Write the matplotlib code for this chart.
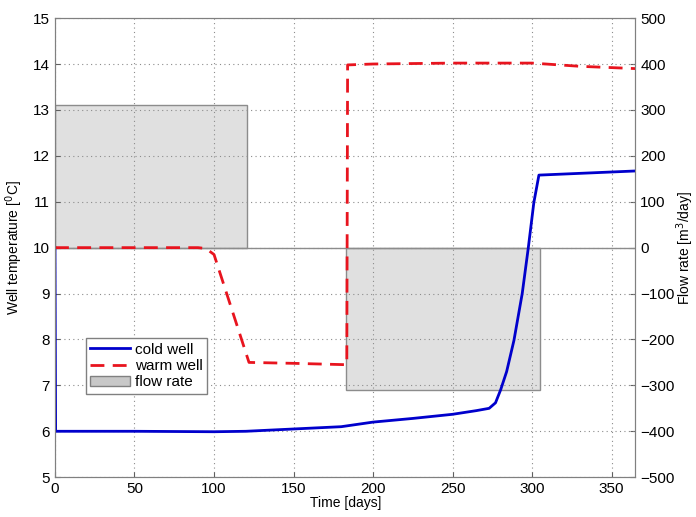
import matplotlib
matplotlib.use("Agg")
import matplotlib.pyplot as plt
from matplotlib.patches import Patch
import numpy as np

plt.rcParams['font.family'] = ['Liberation Sans', 'DejaVu Sans']

# cold well temperature [C]
cold_t = [0, 0.4, 50, 100, 120, 150, 180, 200, 225, 250, 265, 273, 277, 280.2, 284, 288.6, 293.8, 297.6, 301.1, 304.3, 365]
cold_T = [10, 6.0, 6.0, 5.99, 6.0, 6.05, 6.1, 6.2, 6.28, 6.37, 6.45, 6.5, 6.62, 6.9, 7.3, 7.98, 9.0, 9.99, 10.98, 11.58, 11.67]

# warm well temperature [C]
warm_t = [0, 90, 95, 100, 122, 150, 183.5, 184, 200, 250, 300, 330, 365]
warm_T = [10, 10, 9.98, 9.85, 7.5, 7.48, 7.45, 13.98, 14.0, 14.02, 14.02, 13.95, 13.9]

# flow rate [m3/day]
flow_start = [0, 183]
flow_end = [121, 305]
flow_q = [310, -310]

fig = plt.figure(figsize=(6.96, 5.17), dpi=100)
ax = fig.add_axes([0.079, 0.077, 0.834, 0.888])
ax2 = ax.twinx()
ax.set_zorder(ax2.get_zorder() + 1)
ax.patch.set_visible(False)

for s, e, q in zip(flow_start, flow_end, flow_q):
    ax2.bar(s, q, width=e - s, align='edge', color='#e0e0e0', edgecolor='#8c8c8c', linewidth=1.0)
ax2.axhline(0, color='#8c8c8c', linewidth=1.0)

l1, = ax.plot(cold_t, cold_T, color='#0000cc', lw=2, label='cold well')
l2, = ax.plot(warm_t, warm_T, color='#e8141e', lw=2, ls=(0, (5, 3)), label='warm well')

ax.set_xlim(0, 365)
ax.set_ylim(5, 15)
ax2.set_ylim(-500, 500)
ax.set_xticks(np.arange(0, 351, 50))
ax.set_yticks(np.arange(5, 16, 1))
ax2.set_yticks(np.arange(-500, 501, 100))
ax.grid(True, ls=(0, (1, 3)), color='#8c8c8c', lw=0.8)

for a in (ax, ax2):
    a.tick_params(labelsize=11, direction='in', color='#606060')
    for sp in a.spines.values():
        sp.set_color('#808080')

ax.set_xlabel('Time [days]', fontsize=10, labelpad=0)
ax.set_ylabel('Well temperature [$^0$C]', fontsize=10, labelpad=6)
ax2.set_ylabel('Flow rate [m$^3$/day]', fontsize=10, labelpad=0)

p = Patch(facecolor='#c8c8c8', edgecolor='#808080', label='flow rate')
leg = ax.legend(handles=[l1, l2, p], loc='lower left', bbox_to_anchor=(0.04, 0.165),
                fontsize=11, fancybox=False, framealpha=1, edgecolor='#808080',
                handlelength=2.6, borderpad=0.3, labelspacing=0.15, handletextpad=0.3)

fig.savefig('out.png', dpi=100)
